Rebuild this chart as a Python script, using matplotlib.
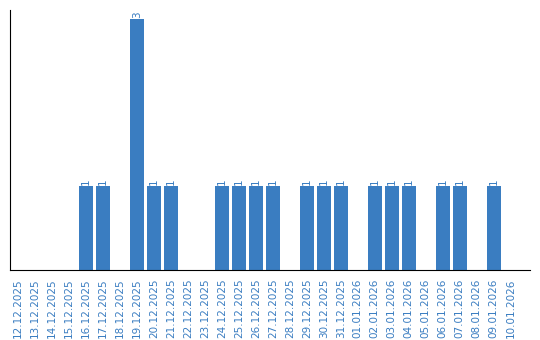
import matplotlib
matplotlib.use('Agg')
import matplotlib.pyplot as plt
import numpy as np

dates = ['12.12.2025', '13.12.2025', '14.12.2025', '15.12.2025', '16.12.2025',
         '17.12.2025', '18.12.2025', '19.12.2025', '20.12.2025', '21.12.2025',
         '22.12.2025', '23.12.2025', '24.12.2025', '25.12.2025', '26.12.2025',
         '27.12.2025', '28.12.2025', '29.12.2025', '30.12.2025', '31.12.2025',
         '01.01.2026', '02.01.2026', '03.01.2026', '04.01.2026', '05.01.2026',
         '06.01.2026', '07.01.2026', '08.01.2026', '09.01.2026', '10.01.2026']
counts = [0, 0, 0, 0, 1, 1, 0, 3, 1, 1,
          0, 0, 1, 1, 1, 1, 0, 1, 1, 1,
          0, 1, 1, 1, 0, 1, 1, 0, 1, 0]

blue = '#3a7dc1'

fig = plt.figure(figsize=(5.4, 3.4), dpi=100)
ax = fig.add_axes([0.0185, 0.206, 0.9625, 0.764])

x = np.arange(len(dates))
bars = ax.bar(x, counts, width=0.82, color=blue)
for xi, v in zip(x, counts):
    if v > 0:
        ax.text(xi, v + 0.02, str(v), rotation=90, ha='center', va='bottom',
                color=blue, fontsize=7.5)

ax.set_xlim(-0.47, 30.12)
ax.set_ylim(0, 3.11)
ax.set_xticks(x)
ax.set_xticklabels(dates, rotation=90, color=blue, fontsize=7.5)
ax.tick_params(axis='x', length=0, pad=6)
ax.set_yticks([])
ax.spines['top'].set_visible(False)
ax.spines['right'].set_visible(False)

fig.savefig('out.png', dpi=100)
